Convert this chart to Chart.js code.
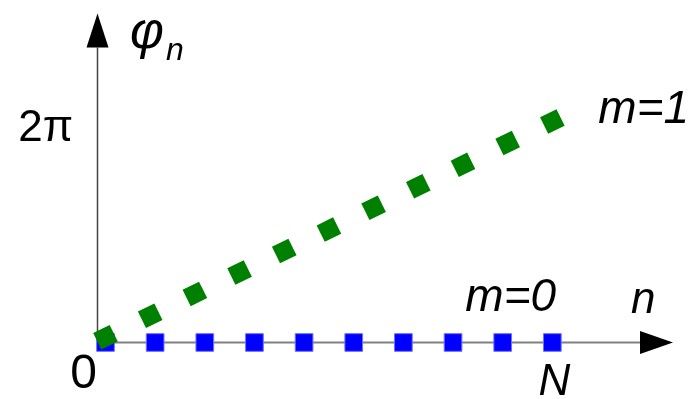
<!DOCTYPE html>
<html>
<head>
<meta charset="utf-8">
<style>
  html,body{margin:0;padding:0;background:#fff;}
  #c{display:block;}
</style>
<script src="https://cdn.jsdelivr.net/npm/chart.js@4.4.1/dist/chart.umd.min.js"></script>
</head>
<body>
<canvas id="c" width="692" height="399"></canvas>
<script>
// ---- data ----
const blueN   = [0, 1, 2, 3, 4, 5, 6, 7, 8, 9];          // n, m=0
const bluePhi = [0, 0, 0, 0, 0, 0, 0, 0, 0, 0];
const greenN   = [0, 0.9, 1.8, 2.7, 3.6, 4.5, 5.4, 6.3, 7.2, 8.1, 9];   // n, m=1
const greenPhi = [0.15, 0.76, 1.38, 1.99, 2.60, 3.21, 3.83, 4.44, 5.05, 5.67, 6.28];
const yTickValue = 6.28;       // 2π
const yTickLabel = '2π';
const originLabel = '0';
const xTickValue = 9;          // N
const xTickLabel = 'N';
const seriesLabels = ['m=0', 'm=1'];
const axisLabels = ['n', 'φ', 'n'];

const toPts = (xs, ys) => xs.map((x, i) => ({x: x, y: ys[i]}));

const overlay = {
  id: 'overlay',
  beforeDatasetsDraw(chart) {
    const ctx = chart.ctx;
    const xs = chart.scales.x, ys = chart.scales.y;
    const x0 = xs.left, y0 = ys.getPixelForValue(0);
    ctx.save();
    ctx.strokeStyle = '#444';
    ctx.lineWidth = 1.5;
    ctx.beginPath(); ctx.moveTo(x0 + 0.5, y0); ctx.lineTo(x0 + 0.5, ys.top + 34); ctx.stroke();
    ctx.strokeStyle = '#808080';
    ctx.lineWidth = 2;
    ctx.beginPath(); ctx.moveTo(x0, y0); ctx.lineTo(xs.right - 33, y0); ctx.stroke();
    ctx.fillStyle = '#000';
    ctx.beginPath();
    ctx.moveTo(x0 + 0.5, ys.top); ctx.lineTo(x0 - 10.5, ys.top + 34); ctx.lineTo(x0 + 11.5, ys.top + 34); ctx.closePath(); ctx.fill();
    ctx.beginPath();
    ctx.moveTo(xs.right, y0); ctx.lineTo(xs.right - 33, y0 - 11.5); ctx.lineTo(xs.right - 33, y0 + 11.5); ctx.closePath(); ctx.fill();
    ctx.restore();
  },
  afterDraw(chart) {
    const ctx = chart.ctx;
    const xs = chart.scales.x, ys = chart.scales.y;
    const x0 = xs.left, y0 = ys.getPixelForValue(0);
    ctx.save();
    ctx.fillStyle = '#000';
    ctx.textBaseline = 'alphabetic';
    ctx.font = '44px "Liberation Sans", Arial, sans-serif';
    ctx.textAlign = 'right';
    ctx.fillText(yTickLabel, x0 - 24, ys.getPixelForValue(yTickValue) + 19);
    ctx.font = '48px "Liberation Sans", Arial, sans-serif';
    ctx.fillText(originLabel, x0, y0 + 45);
    ctx.font = 'italic 44px "Liberation Sans", Arial, sans-serif';
    ctx.textAlign = 'center';
    ctx.fillText(xTickLabel, xs.getPixelForValue(xTickValue) + 2, y0 + 52);
    ctx.textAlign = 'left';
    ctx.font = 'italic 44px "Liberation Sans", Arial, sans-serif';
    ctx.fillText(axisLabels[0], xs.right - 42, y0 - 30);
    ctx.font = 'italic 52px "Liberation Sans", Arial, sans-serif';
    ctx.fillText(axisLabels[1], x0 + 33, ys.top + 34);
    ctx.font = 'italic 32px "Liberation Sans", Arial, sans-serif';
    ctx.fillText(axisLabels[2], x0 + 69, ys.top + 46);
    ctx.font = 'italic 46px "Liberation Sans", Arial, sans-serif';
    ctx.fillText(seriesLabels[0], xs.getPixelForValue(blueN[blueN.length - 1]) - 87, y0 - 32);
    ctx.fillText(seriesLabels[1], xs.getPixelForValue(greenN[greenN.length - 1]) + 46, ys.getPixelForValue(greenPhi[greenPhi.length - 1]) + 1);
    ctx.restore();
  }
};

new Chart(document.getElementById('c'), {
  type: 'scatter',
  data: {
    datasets: [
      {
        label: seriesLabels[1],
        data: toPts(greenN, greenPhi),
        pointStyle: 'rect',
        rotation: -26.3,
        pointRadius: 13,
        backgroundColor: '#008000',
        borderColor: '#008000',
        borderWidth: 0,
        showLine: false
      },
      {
        label: seriesLabels[0],
        data: toPts(blueN, bluePhi),
        pointStyle: 'rect',
        pointRadius: 12.5,
        backgroundColor: '#0000ff',
        borderColor: '#7070ff',
        borderWidth: 1,
        showLine: false
      }
    ]
  },
  options: {
    responsive: false,
    devicePixelRatio: 1,
    animation: false,
    events: [],
    layout: { padding: { left: 97, right: 19, top: 7, bottom: 56.5 } },
    plugins: { legend: { display: false }, tooltip: { enabled: false } },
    scales: {
      x: { type: 'linear', display: false, min: -0.171, max: 11.43 },
      y: { type: 'linear', display: false, min: 0, max: 9.35 }
    },
    clip: false
  },
  plugins: [overlay]
});
</script>
</body>
</html>
